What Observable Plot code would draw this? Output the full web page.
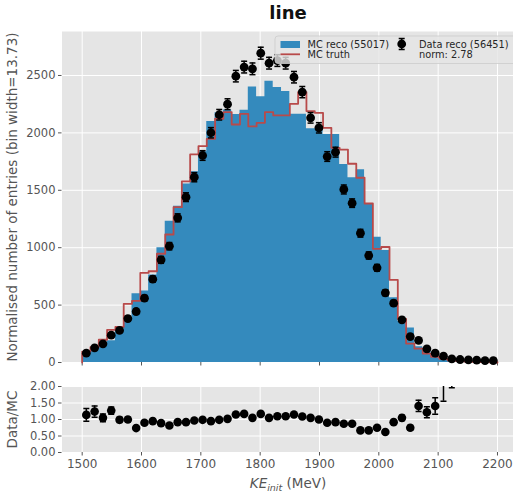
<!DOCTYPE html>
<html><head><meta charset="utf-8">
<script src="https://cdn.jsdelivr.net/npm/d3@7"></script>
<script src="https://cdn.jsdelivr.net/npm/@observablehq/plot@0.6"></script>
<style>
html,body{margin:0;padding:0;background:#fff;overflow:hidden;}
#wrap{position:relative;width:513px;height:493px;overflow:hidden;font-family:"DejaVu Sans",sans-serif;}
#wrap svg{position:absolute;left:0;overflow:hidden;}
</style></head>
<body><div id="wrap"></div>
<script>
// ---- data ----
const binStart = 1500, binWidth = 14, nBins = 50;
const mcReco = [71,105,155,190,280,385,598,622,762,1000,1230,1360,1555,1662,1835,2100,2175,2200,2160,2197,2400,2315,2450,2395,2360,2162,2162,2035,2035,1985,1985,1725,1610,1678,1380,1090,975,565,358,300,138,98,58,25,10,6,4,3,2,1];
const mcTruth = [95,134,198,285,310,511,537,780,795,947,1115,1353,1577,1812,1884,1948,2123,2181,2073,2166,2056,2088,2181,2152,2152,2253,2355,2190,2175,2044,1870,1855,1731,1609,1385,990,1006,720,380,165,120,78,50,32,18,12,8,5,3,2];
const dataReco = [81,128,163,238,279,383,444,560,726,894,1013,1260,1440,1614,1803,2001,2158,2250,2494,2573,2558,2694,2607,2630,2607,2485,2355,2131,2044,1794,1832,1507,1388,1126,932,825,607,517,372,226,192,119,81,55,32,26,22,20,17,17];
const dataErr = [9,11,13,15,17,20,21,24,27,30,32,35,38,40,42,45,46,47,50,51,51,52,51,51,51,50,49,46,45,42,43,39,37,34,31,29,25,23,19,15,14,11,9,7,6,5,5,4,4,4];
const ratio = [1.14,1.24,1.05,1.27,0.99,1.00,0.74,0.90,0.95,0.89,0.82,0.92,0.92,0.97,0.99,0.95,0.99,1.02,1.15,1.17,1.05,1.17,1.05,1.10,1.10,1.15,1.09,1.05,1.00,0.90,0.92,0.87,0.87,0.67,0.67,0.75,0.62,0.92,1.05,0.75,1.41,1.22,1.41,2.3,3.0,null,null,null,null,null];
const ratioErr = [0.19,0.17,0.12,0.11,0.08,0.07,0.05,0.05,0.05,0.04,0.04,0.04,0.03,0.03,0.03,0.03,0.03,0.03,0.03,0.03,0.03,0.03,0.03,0.03,0.03,0.03,0.03,0.03,0.03,0.03,0.03,0.03,0.03,0.03,0.03,0.04,0.04,0.05,0.08,0.07,0.17,0.17,0.25,0.75,1.04,null,null,null,null,null];
const xTicks = [1500,1600,1700,1800,1900,2000,2100,2200];
const yTicks = [0,500,1000,1500,2000,2500];
const rTicks = [0,0.5,1,1.5,2];
const title = "line";
const yLabel = "Normalised number of entries (bin width=13.73)";
const rLabel = "Data/MC";
const legendItems = ["MC reco (55017)", "MC truth", "Data reco (56451)", "norm: 2.78"];

// ---- build tables ----
const edges = d3.range(nBins + 1).map(i => binStart + binWidth * i);
const rows = mcReco.map((v, i) => ({
  x1: edges[i], x2: edges[i + 1], xc: (edges[i] + edges[i + 1]) / 2,
  mc: v, truth: mcTruth[i], data: dataReco[i], err: dataErr[i],
  ratio: ratio[i], rerr: ratioErr[i]
}));
// histogram bars drawn as a seamless stepped area (one bar per bin)
const recoPts = [...rows.map(r => ({x: r.x1, y: r.mc})), {x: edges[nBins], y: mcReco[nBins - 1]}];
const stepPts = [{x: edges[0], y: 0}, ...rows.map(r => ({x: r.x1, y: r.truth})),
  {x: edges[nBins], y: mcTruth[nBins - 1]}, {x: edges[nBins], y: 0}];

const BLUE = "#348ABD", RED = "#B84A4A", BG = "#E5E5E5", TXT = "#555555";
const FONT = "DejaVu Sans, sans-serif";
const xDomain = [1466, 2227];
const capSymbol = {draw(ctx, size) { const w = Math.sqrt(size / Math.PI); ctx.moveTo(-w, 0); ctx.lineTo(w, 0); }};

const wrap = document.getElementById("wrap");

// ---- main panel ----
const main = Plot.plot({
  width: 513, height: 370,
  marginLeft: 61.5, marginRight: 0, marginTop: 31, marginBottom: 8,
  style: {fontFamily: FONT, fontSize: "11.5px", color: TXT, background: "transparent"},
  x: {domain: xDomain},
  y: {domain: [0, 2883]},
  marks: [
    Plot.frame({fill: BG, stroke: null}),
    Plot.gridX({ticks: xTicks, stroke: "white", strokeOpacity: 1, strokeWidth: 1}),
    Plot.gridY({ticks: yTicks, stroke: "white", strokeOpacity: 1, strokeWidth: 1}),
    Plot.axisY({ticks: yTicks, tickFormat: d3.format("d"), tickSize: 3.5, tickPadding: 3, label: null, stroke: TXT, fill: TXT}),
    Plot.axisX({ticks: xTicks, tickSize: 3.5, tickFormat: () => "", label: null, stroke: TXT}),
    Plot.areaY(recoPts, {x: "x", y1: 0, y2: "y", curve: "step-after", fill: BLUE}),
    Plot.line(stepPts, {x: "x", y: "y", curve: "step-after", stroke: RED, strokeWidth: 1.8}),
    Plot.ruleX(rows, {x: "xc", y1: d => d.data - d.err, y2: d => d.data + d.err, stroke: "black", strokeWidth: 1.5}),
    Plot.dot(rows, {x: "xc", y: d => d.data + d.err, symbol: capSymbol, r: 3, fill: "none", stroke: "black", strokeWidth: 1.5}),
    Plot.dot(rows, {x: "xc", y: d => d.data - d.err, symbol: capSymbol, r: 3, fill: "none", stroke: "black", strokeWidth: 1.5}),
    Plot.dot(rows, {x: "xc", y: "data", r: 4.4, fill: "black", stroke: null}),
    Plot.text([yLabel], {frameAnchor: "left", dx: -49.5, rotate: -90, fontSize: 13.5, fill: TXT, textAnchor: "middle", lineAnchor: "middle"})
  ]
});
main.style.top = "0px";
wrap.appendChild(main);

// ---- ratio panel ----
const rrows = rows.filter(d => d.ratio != null);
const rp = Plot.plot({
  width: 513, height: 121,
  marginLeft: 61.5, marginRight: 0, marginTop: 14, marginBottom: 41,
  style: {fontFamily: FONT, fontSize: "11.5px", color: TXT, background: "transparent"},
  x: {domain: xDomain},
  y: {domain: [0, 2]},
  marks: [
    Plot.frame({fill: BG, stroke: null}),
    Plot.gridX({ticks: xTicks, stroke: "white", strokeOpacity: 1, strokeWidth: 1}),
    Plot.gridY({ticks: rTicks, stroke: "white", strokeOpacity: 1, strokeWidth: 1}),
    Plot.axisY({ticks: rTicks, tickFormat: d3.format(".2f"), tickSize: 3.5, tickPadding: 3, label: null, stroke: TXT, fill: TXT}),
    Plot.axisX({ticks: xTicks, tickFormat: d3.format("d"), tickSize: 3.5, tickPadding: 3, label: null, stroke: TXT, fill: TXT, fontSize: 12}),
    Plot.ruleX(rrows, {x: "xc", y1: d => d.ratio - d.rerr, y2: d => d.ratio + d.rerr, stroke: "black", strokeWidth: 1.5, clip: true}),
    Plot.dot(rrows, {x: "xc", y: d => d.ratio + d.rerr, symbol: capSymbol, r: 3, fill: "none", stroke: "black", strokeWidth: 1.5, clip: true}),
    Plot.dot(rrows, {x: "xc", y: d => d.ratio - d.rerr, symbol: capSymbol, r: 3, fill: "none", stroke: "black", strokeWidth: 1.5, clip: true}),
    Plot.dot(rrows, {x: "xc", y: "ratio", r: 4.3, fill: "black", stroke: null, clip: true}),
    Plot.text([rLabel], {frameAnchor: "left", dx: -49.5, rotate: -90, fontSize: 13.5, fill: TXT, textAnchor: "middle", lineAnchor: "middle"})
  ]
});
rp.style.top = "372px";
wrap.appendChild(rp);

// ---- overlay: title, legend, x label ----
const ov = d3.select(wrap).append("svg")
  .attr("width", 513).attr("height", 493)
  .style("top", "0px").style("font-family", FONT);
ov.append("text").attr("x", 288).attr("y", 19).attr("text-anchor", "middle")
  .attr("font-size", 18).attr("font-weight", "bold").attr("fill", "#111").text(title);

const lg = ov.append("g");
lg.append("rect").attr("x", 275).attr("y", 36).attr("width", 245).attr("height", 27.5).attr("rx", 3)
  .attr("fill", "rgba(229,229,229,0.8)").attr("stroke", "rgba(204,204,204,0.8)").attr("stroke-width", 1);
lg.append("rect").attr("x", 280.5).attr("y", 41).attr("width", 19.5).attr("height", 7).attr("fill", BLUE);
lg.append("line").attr("x1", 280.5).attr("x2", 300).attr("y1", 54.3).attr("y2", 54.3).attr("stroke", RED).attr("stroke-width", 1.8);
lg.append("line").attr("x1", 401.7).attr("x2", 401.7).attr("y1", 38.5).attr("y2", 49.5).attr("stroke", "black").attr("stroke-width", 1.5);
lg.append("line").attr("x1", 398.7).attr("x2", 404.7).attr("y1", 38.5).attr("y2", 38.5).attr("stroke", "black").attr("stroke-width", 1.5);
lg.append("line").attr("x1", 398.7).attr("x2", 404.7).attr("y1", 49.5).attr("y2", 49.5).attr("stroke", "black").attr("stroke-width", 1.5);
lg.append("circle").attr("cx", 401.7).attr("cy", 44).attr("r", 4.4).attr("fill", "black");
const lt = [[307.5, 47.6, legendItems[0]], [307.5, 57.9, legendItems[1]], [419, 47.6, legendItems[2]], [419, 57.9, legendItems[3]]];
lt.forEach(([x, y, t]) => lg.append("text").attr("x", x).attr("y", y).attr("font-size", 9.8).attr("fill", "#262626").text(t));

const xl = ov.append("text").attr("x", 288).attr("y", 487.5).attr("text-anchor", "middle").attr("font-size", 13.5).attr("fill", TXT);
xl.append("tspan").attr("font-style", "italic").text("KE");
xl.append("tspan").attr("font-style", "italic").attr("font-size", 9.5).attr("dy", 3).text("init");
xl.append("tspan").attr("dy", -3).text(" (MeV)");
</script>
</body></html>
